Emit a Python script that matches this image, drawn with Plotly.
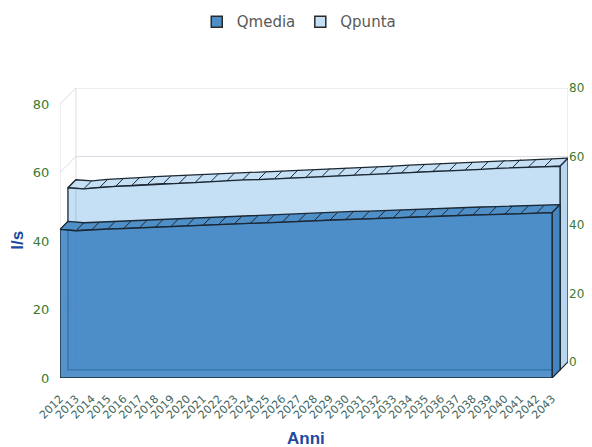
import plotly.graph_objects as go

# --- data ---
years = [str(y) for y in range(2012, 2044)]
qmedia = [43.4, 43.0, 43.3, 43.5, 43.6, 43.8, 44.0, 44.3, 44.5, 44.6, 44.9, 45.1,
          45.2, 45.3, 45.5, 45.7, 45.9, 46.1, 46.3, 46.4, 46.6, 46.8, 47.0, 47.1,
          47.2, 47.4, 47.6, 47.7, 47.8, 47.9, 48.1, 48.3]
qpunta = [53.2, 52.9, 53.3, 53.6, 53.8, 54.1, 54.4, 54.5, 54.7, 55.0, 55.2, 55.5,
          55.6, 55.8, 56.1, 56.3, 56.5, 56.7, 56.8, 57.0, 57.2, 57.5, 57.8, 58.0,
          58.1, 58.3, 58.6, 58.9, 59.1, 59.2, 59.3, 59.5]
y_ticks = [0, 20, 40, 60, 80]

# fake 3D depth (in axis units)
DX = 1.0
DY = 4.7
EDGE = "#1b2733"
GRID = "#dcdce6"
TITLE_BLUE = "#1d4aa0"
TICK_GREEN = "#3c7a32"
HIDDEN = "rgba(0,0,0,0)"
n = len(years)
idx = list(range(n))
last = n - 1

fig = go.Figure()


def add_line(xs, ys, color=GRID, width=1):
    fig.add_trace(go.Scatter(x=xs, y=ys, mode="lines", line=dict(color=color, width=width),
                             hoverinfo="skip", showlegend=False))


# --- walls / grid ---
gx, gy = [], []
for v in y_ticks:
    gx += [DX, last + DX, None, 0, DX, None]
    gy += [v + DY, v + DY, None, v, v + DY, None]
gx += [0, 0, None, DX, DX, None, last + DX, last + DX]
gy += [0, 80, None, DY, 80 + DY, None, DY, 80 + DY]
add_line(gx, gy)


def slab(values, d0, d1, name, face, cap, side):
    ox0, oy0 = DX * d0, DY * d0
    ox1, oy1 = DX * d1, DY * d1
    # back edges seen through the front face
    add_line([ox1, ox1, last + ox1], [values[0] + oy1, oy1, oy1], color=EDGE, width=1)
    # top cap
    cx = [i + ox0 for i in idx] + [i + ox1 for i in reversed(idx)]
    cy = [v + oy0 for v in values] + [v + oy1 for v in reversed(values)]
    fig.add_trace(go.Scatter(x=cx + [cx[0]], y=cy + [cy[0]], fill="toself", fillcolor=cap,
                             mode="lines", line=dict(color=EDGE, width=1.3),
                             hoverinfo="skip", showlegend=False))
    hx, hy = [], []
    for i, v in zip(idx, values):
        hx += [i + ox0, i + ox1, None]
        hy += [v + oy0, v + oy1, None]
    add_line(hx, hy, color=EDGE, width=1)
    # right side face
    fig.add_trace(go.Scatter(x=[last + ox0, last + ox0, last + ox1, last + ox1, last + ox0],
                             y=[oy0, values[-1] + oy0, values[-1] + oy1, oy1, oy0],
                             fill="toself", fillcolor=side, mode="lines",
                             line=dict(color=EDGE, width=1.2), hoverinfo="skip", showlegend=False))
    # front face
    fx = [ox0] + [i + ox0 for i in idx] + [last + ox0, ox0]
    fy = [oy0] + [v + oy0 for v in values] + [oy0, oy0]
    fig.add_trace(go.Scatter(x=fx, y=fy, fill="toself", fillcolor=face, mode="lines",
                             line=dict(color=EDGE, width=1.3), name=name, showlegend=False,
                             customdata=[None] + years + [None, None],
                             text=[None] + [f"{v}" for v in values] + [None, None],
                             hovertemplate="%{customdata}: %{text} l/s<extra>" + name + "</extra>"))


slab(qpunta, 0.5, 1.0, "Qpunta", "rgba(189,219,242,0.88)", "#c5dff4", "#b9d6f0")
slab(qmedia, 0.0, 0.5, "Qmedia", "rgba(60,131,194,0.88)", "#4f8fc8", "#4684bd")

# legend entries (square swatches)
for name, col in [("Qmedia", "#4f8fc8"), ("Qpunta", "#c5dff4")]:
    fig.add_trace(go.Scatter(x=[None], y=[None], mode="markers", name=name,
                             marker=dict(symbol="square", size=11, color=col,
                                         line=dict(color="#2a2a2a", width=1.5))))

# invisible trace so the right axis is drawn
fig.add_trace(go.Scatter(x=[0], y=[0], yaxis="y2", mode="markers", marker=dict(opacity=0),
                         hoverinfo="skip", showlegend=False))

# page body adds an 8px margin, so the figure is 8px smaller than the window
fig.update_layout(
    width=584, height=439,
    margin=dict(l=52, r=24, t=80, b=69, autoexpand=False),
    paper_bgcolor="white", plot_bgcolor="white",
    font=dict(family="Liberation Sans, Arial, sans-serif", size=11, color="#444"),
    showlegend=True,
    legend=dict(orientation="h", x=0.47, xanchor="center", y=1.228, yanchor="middle",
                font=dict(family="DejaVu Sans, sans-serif", size=15, color="#595959"),
                itemwidth=30, bgcolor="rgba(0,0,0,0)"),
    xaxis=dict(range=[0, last + DX], tickmode="array", tickvals=idx, ticktext=years,
               tickangle=-45, tickfont=dict(family="DejaVu Sans, sans-serif", size=11,
                                            color="#3e6660"),
               showgrid=False, zeroline=False, showline=False,
               ticks="outside", ticklen=9, tickcolor=HIDDEN,
               automargin=False, fixedrange=True),
    yaxis=dict(range=[0, 80 + DY], tickmode="array", tickvals=y_ticks,
               tickfont=dict(family="DejaVu Sans, sans-serif", size=13, color=TICK_GREEN),
               showgrid=False, zeroline=False, showline=False,
               ticks="outside", ticklen=7, tickcolor=HIDDEN,
               automargin=False, fixedrange=True),
    yaxis2=dict(range=[-DY, 80], overlaying="y", side="right", tickmode="array",
                tickvals=y_ticks,
                tickfont=dict(family="DejaVu Sans, sans-serif", size=12, color=TICK_GREEN),
                showgrid=False, zeroline=False, showline=False, ticks="",
                automargin=False, fixedrange=True),
    annotations=[
        dict(text="<b>Anni</b>", xref="paper", yref="paper", x=0.484, y=-0.207,
             xanchor="center", yanchor="middle",
             showarrow=False, font=dict(size=17, color=TITLE_BLUE)),
        dict(text="<b>l/s</b>", xref="paper", yref="paper", x=-0.083, y=0.476,
             xanchor="center", yanchor="middle",
             showarrow=False, textangle=-90, font=dict(size=17, color=TITLE_BLUE)),
    ],
)

fig.write_html("out.html")
